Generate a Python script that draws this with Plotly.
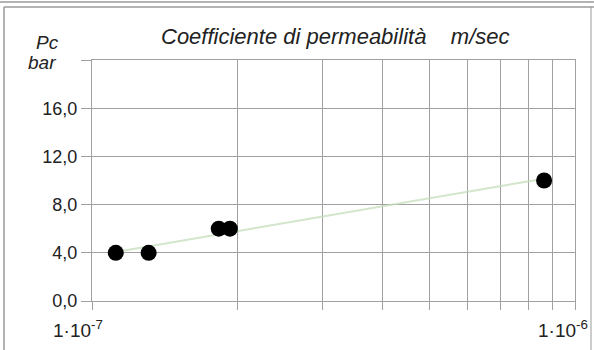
import numpy as np
import plotly.graph_objects as go

# Data
permeability = [1.12e-7, 1.31e-7, 1.83e-7, 1.93e-7, 8.63e-7]   # m/sec
pressure = [4.0, 4.0, 6.0, 6.0, 10.0]                            # bar

y_ticks = [0, 4, 8, 12, 16, 20]
y_ticklabels = ["0,0", "4,0", "8,0", "12,0", "16,0", ""]
x_grid = [k * 1e-7 for k in range(1, 11)]
x_labels = {1e-7: "1·10<sup>-7</sup>", 1e-6: "1·10<sup>-6</sup>"}

title_text = "Coefficiente di permeabilità&nbsp;&nbsp;&nbsp;&nbsp;m/sec"

# Trend line (least squares on log x)
lx = np.log10(permeability)
slope, icpt = np.polyfit(lx, pressure, 1)
tx = np.array([min(lx), max(lx)])
ty = slope * tx + icpt

W, H = 594, 350
L, R, T, B = 92, 19, 60, 49
pw, ph = W - L - R, H - T - B

def px(x):
    return (x - L) / pw

def py(y):
    return (H - B - y) / ph

FONT = "Liberation Sans, Arial, sans-serif"
GRID = "#a0a0a0"
TXT = "#222"

fig = go.Figure()
fig.add_trace(go.Scatter(
    x=10 ** tx, y=ty, mode="lines",
    line=dict(color="rgba(195,222,185,0.75)", width=2),
    hoverinfo="skip", showlegend=False))
fig.add_trace(go.Scatter(
    x=permeability, y=pressure, mode="markers",
    marker=dict(color="black", size=16),
    showlegend=False))

fig.update_layout(
    width=W, height=H,
    margin=dict(l=L, r=R, t=T, b=B, autoexpand=False),
    paper_bgcolor="white", plot_bgcolor="white",
    font=dict(family=FONT, size=17, color=TXT),
)
fig.update_xaxes(
    type="log", range=[-7, -6],
    tickvals=x_grid, ticktext=[""] * len(x_grid),
    showgrid=True, gridcolor=GRID, gridwidth=1,
    ticks="outside", ticklen=8, tickcolor=GRID,
    showline=True, linecolor=GRID, mirror=True, zeroline=False,
    automargin=False)
fig.update_yaxes(
    range=[0, 20],
    tickvals=y_ticks, ticktext=y_ticklabels,
    showgrid=True, gridcolor=GRID, gridwidth=1,
    ticks="outside", ticklen=10, tickcolor=GRID,
    tickfont=dict(size=18, family=FONT, color=TXT),
    showline=True, linecolor=GRID, mirror=True, zeroline=False,
    automargin=False)

# x tick labels at the two decades
for xv, txt, shift in [(1e-7, x_labels[1e-7], -14), (1e-6, x_labels[1e-6], -12)]:
    fig.add_annotation(x=np.log10(xv), xref="x", y=py(329), yref="paper",
                       xanchor="center", yanchor="middle",
                       text=txt, showarrow=False, xshift=shift,
                       font=dict(size=19, family=FONT, color=TXT))

# title and axis labels
fig.add_annotation(x=px(335), y=py(37), xref="paper", yref="paper",
                   xanchor="center", yanchor="middle",
                   text="<i>" + title_text + "</i>", showarrow=False,
                   font=dict(size=22, family=FONT, color=TXT))
fig.add_annotation(x=px(47), y=py(42), xref="paper", yref="paper",
                   xanchor="center", yanchor="middle",
                   text="<i>Pc</i>", showarrow=False,
                   font=dict(size=19, family=FONT, color=TXT))
fig.add_annotation(x=px(42), y=py(63), xref="paper", yref="paper",
                   xanchor="center", yanchor="middle",
                   text="<i>bar</i>", showarrow=False,
                   font=dict(size=19, family=FONT, color=TXT))

# outer frame
frame = "#9a9a9a"
for x0, y0, x1, y1, w in [(0, 2, W, 2, 1.5), (4, 7, W, 7, 1.5),
                          (4, 7, 4, H, 1.5), (591, 7, 591, H, 1)]:
    fig.add_shape(type="line", xref="paper", yref="paper",
                  x0=px(x0), y0=py(y0), x1=px(x1), y1=py(y1),
                  line=dict(color=frame, width=w))

fig.write_html("out.html", config={"displayModeBar": False},
               post_script="document.body.style.margin='0';document.body.style.overflow='hidden';")
